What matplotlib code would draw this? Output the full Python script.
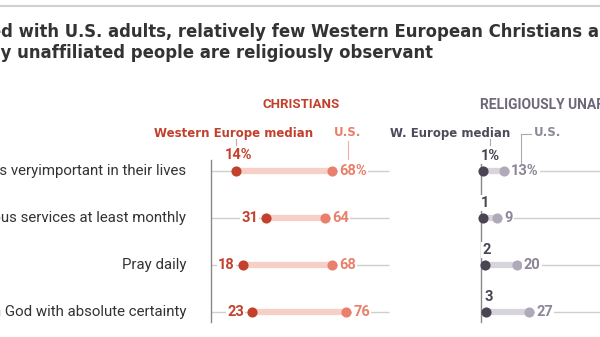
import matplotlib
matplotlib.use("Agg")
import matplotlib.pyplot as plt
from matplotlib.lines import Line2D

# ---- data ----
categories = ["Say religion is veryimportant in their lives",
              "Attend religious services at least monthly",
              "Pray daily",
              "Believe in God with absolute certainty"]
christ_we = [14, 31, 18, 23]
christ_us = [68, 64, 68, 76]
unaff_we = [1, 1, 2, 3]
unaff_us = [13, 9, 20, 27]
title_lines = ["Compared with U.S. adults, relatively few Western European Christians and",
               "religiously unaffiliated people are religiously observant"]
title_hidden = ["Compare", "religiousl"]

W, H = 600, 337
FONT = "Roboto"
WIDE = "DejaVu Sans"
plt.rcParams['font.family'] = [FONT, 'DejaVu Sans']

fig = plt.figure(figsize=(W / 100, H / 100), dpi=100)
fig.patch.set_facecolor("white")

def fx(x):
    return x / W

def fy(y):
    return 1 - y / H

def pxline(x0, y0, x1, y1, color, lw=0.8):
    fig.add_artist(Line2D([fx(x0), fx(x1)], [fy(y0), fy(y1)], color=color, lw=lw,
                          transform=fig.transFigure))

# top rule
pxline(0, 6, W, 6, "#d0d0d0", 1.5)

# title (left part is cut off by the frame in the reference)
renderer = fig.canvas.get_renderer()
TSIZE = 11.9
tbase = [37, 58]
for line, hidden, yb in zip(title_lines, title_hidden, tbase):
    t = fig.text(0, 0, hidden, fontsize=TSIZE, fontweight="bold", family=WIDE)
    wpx = t.get_window_extent(renderer).width
    t.remove()
    fig.text(fx(1 - wpx), fy(yb), line, fontsize=TSIZE, fontweight="bold", family=WIDE,
             color="#333333", ha="left", va="baseline")

# colours
C_WE, C_US, C_BAND = "#c2402c", "#e8806b", "#f6cfc7"
U_WE, U_US, U_BAND = "#4a4453", "#b0a9b8", "#d8d4dc"
U_US_TXT = "#8c8596"
GRID = "#cfcfcf"

rows = list(range(len(categories)))
y_top, y_bot = 160, 322
row_px = 47

def make_ax(x0):
    ax = fig.add_axes([fx(x0), fy(y_bot), 178 / W, (y_bot - y_top) / H])
    ax.set_xlim(0, 100)
    ax.set_ylim(3 + 10 / row_px, -11 / row_px)
    for s in ["top", "right", "bottom"]:
        ax.spines[s].set_visible(False)
    ax.spines["left"].set_color("#888888")
    ax.spines["left"].set_linewidth(1.0)
    ax.set_xticks([])
    ax.set_yticks([])
    ax.patch.set_alpha(0)
    return ax

axc = make_ax(211)
axu = make_ax(481)

lab_kw = dict(fontsize=10.5, fontweight="bold", textcoords="offset pixels",
              bbox=dict(boxstyle="square,pad=0.08", fc="white", ec="none"), zorder=6)

for ax, we, us, cwe, cus, cband, cus_txt, above in [
        (axc, christ_we, christ_us, C_WE, C_US, C_BAND, C_US, False),
        (axu, unaff_we, unaff_us, U_WE, U_US, U_BAND, U_US_TXT, True)]:
    ax.hlines(rows, 0, 100, color=GRID, lw=1, zorder=1, clip_on=False)
    ax.hlines(rows, we, us, color=cband, lw=4.5, zorder=2, clip_on=False)
    ax.plot(we, rows, "o", color=cwe, ms=7.3, mec="none", zorder=4, clip_on=False)
    ax.plot(us, rows, "o", color=cus, ms=7.3, mec="none", zorder=4, clip_on=False)
    for i, (a, b) in enumerate(zip(we, us)):
        sa = f"{a}%" if i == 0 else f"{a}"
        sb = f"{b}%" if i == 0 else f"{b}"
        if above:
            ax.annotate(sa, (a, i), xytext=(-2, 15), ha="left", va="center",
                        color=cwe, **lab_kw)
        elif i == 0:
            ax.annotate(sa, (a, i), xytext=(3, 16), ha="center", va="center",
                        color=cwe, **lab_kw)
        else:
            ax.annotate(sa, (a, i), xytext=(-8, 0), ha="right", va="center",
                        color=cwe, **lab_kw)
        ax.annotate(sb, (b, i), xytext=(7, 0), ha="left", va="center",
                    color=cus_txt, **lab_kw)

# row labels
for i, cat in enumerate(categories):
    axc.annotate(cat, (0, i), xytext=(-25, 0), textcoords="offset pixels",
                 ha="right", va="center", fontsize=10.8, color="#333333",
                 annotation_clip=False)

# section headers
fig.text(fx(301), fy(105), "CHRISTIANS", fontsize=9.5, fontweight="bold",
         color=C_WE, ha="center", va="center")
fig.text(fx(480), fy(105), "RELIGIOUSLY UNAFFILIATED", fontsize=10, fontweight="bold",
         color="#6e6878", ha="left", va="center")
fig.text(fx(313), fy(133), "Western Europe median", fontsize=8.5, fontweight="bold",
         family=WIDE, color=C_WE, ha="right", va="center")
fig.text(fx(348), fy(133), "U.S.", fontsize=8.5, fontweight="bold", family=WIDE,
         color=C_US, ha="center", va="center")
fig.text(fx(510), fy(133), "W. Europe median", fontsize=8.5, fontweight="bold",
         family=WIDE, color="#4f4a5a", ha="right", va="center")
fig.text(fx(534), fy(133), "U.S.", fontsize=8.5, fontweight="bold", family=WIDE,
         color="#8e8797", ha="left", va="center")

# leader ticks
pxline(236, 139, 236, 145, "#e0a090")
pxline(348, 141, 348, 159, "#f0b0a4")
pxline(490, 139, 490, 145, "#aaaaaa")
pxline(521, 134, 531, 134, "#aaaaaa")
pxline(521, 134, 521, 163, "#aaaaaa")

fig.savefig("out.png", dpi=100, facecolor="white")
